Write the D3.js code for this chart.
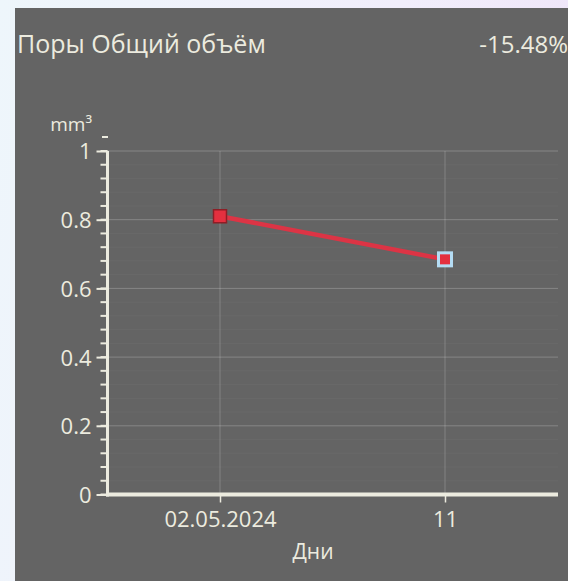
<!DOCTYPE html>
<html><head><meta charset="utf-8">
<script src="https://cdn.jsdelivr.net/npm/d3@7"></script>
<style>
html,body{margin:0;padding:0;width:568px;height:581px;overflow:hidden;}
body{background:linear-gradient(100deg,#eef6fb 0%,#f1eefb 60%,#efe3f8 100%);}
svg{display:block;}
</style></head><body>
<svg id="c" width="568" height="581"></svg>
<script>
const title = "Поры Общий объём";
const changeLabel = "-15.48%";
const unitLabel = "mm³";
const xAxisTitle = "Дни";
const categories = ["02.05.2024", "11"];
const values = [0.81, 0.6846];
const yTicks = [0, 0.2, 0.4, 0.6, 0.8, 1];
const yMinorTicks = d3.range(0, 1.0001, 0.04);

const FONT = "'Open Sans', 'Noto Sans', sans-serif";
const svg = d3.select("#c");
const fg = "#ecebdf";
svg.append("rect").attr("x",15).attr("y",8).attr("width",553).attr("height",573).attr("fill","#646464");

const y = d3.scaleLinear().domain([0,1]).range([494.5,151]);
const x = d3.scalePoint().domain(categories).range([220,445]);
const xLeft = 107.5, xRight = 558;

// grid
const g = svg.append("g");
g.selectAll(".mg").data(yMinorTicks).join("line")
  .attr("x1",xLeft).attr("x2",xRight).attr("y1",d=>y(d)).attr("y2",d=>y(d))
  .attr("stroke","rgba(255,255,255,0.035)").attr("stroke-width",1);
g.selectAll(".gy").data(yTicks.filter(d=>d>0)).join("line")
  .attr("x1",xLeft).attr("x2",xRight).attr("y1",d=>y(d)).attr("y2",d=>y(d))
  .attr("stroke","rgba(255,255,255,0.2)").attr("stroke-width",1);
g.selectAll(".gx").data(categories).join("line")
  .attr("x1",d=>x(d)).attr("x2",d=>x(d)).attr("y1",y(1)).attr("y2",y(0))
  .attr("stroke","rgba(255,255,255,0.2)").attr("stroke-width",1);

// y axis minor ticks
svg.append("g").selectAll("line").data(yMinorTicks).join("line")
  .attr("x1",xLeft-7).attr("x2",xLeft).attr("y1",d=>y(d)).attr("y2",d=>y(d))
  .attr("stroke",fg).attr("stroke-width",2);
// y axis via d3
const yAxis = d3.axisLeft(y).tickValues(yTicks).tickSize(11).tickPadding(5)
  .tickFormat(d=>d===0||d===1?String(d):d3.format(".1f")(d));
const ya = svg.append("g").attr("transform",`translate(${xLeft},0)`).call(yAxis);
ya.select(".domain").remove();
ya.selectAll(".tick line").attr("stroke",fg).attr("stroke-width",2);
ya.selectAll(".tick text").attr("fill",fg).attr("font-family",FONT).attr("font-size",22).attr("dy","0.36em");
svg.append("line").attr("x1",xLeft).attr("x2",xLeft).attr("y1",y(1)).attr("y2",y(0)+2)
  .attr("stroke",fg).attr("stroke-width",3);
// unit label
svg.append("text").attr("x",92).attr("y",131).attr("text-anchor","end").attr("fill",fg)
  .attr("font-family",FONT).attr("font-size",19).text(unitLabel);
svg.append("line").attr("x1",102).attr("x2",108).attr("y1",137).attr("y2",137).attr("stroke",fg).attr("stroke-width",2);

// x axis
const xAxis = d3.axisBottom(x).tickSize(8).tickPadding(9);
const xa = svg.append("g").attr("transform",`translate(0,${y(0)})`).call(xAxis);
xa.select(".domain").remove();
xa.selectAll(".tick line").attr("stroke",fg).attr("stroke-width",1.5);
xa.selectAll(".tick text").attr("fill",fg).attr("font-family",FONT).attr("font-size",22);
svg.append("line").attr("x1",xLeft-1.5).attr("x2",xRight).attr("y1",y(0)).attr("y2",y(0))
  .attr("stroke",fg).attr("stroke-width",4);
svg.append("text").attr("x",313).attr("y",559).attr("text-anchor","middle").attr("fill",fg)
  .attr("font-family",FONT).attr("font-size",21).text(xAxisTitle);

// line
const data = categories.map((c,i)=>({c,v:values[i]}));
svg.append("path").datum(data)
  .attr("d",d3.line().x(d=>x(d.c)).y(d=>y(d.v)))
  .attr("fill","none").attr("stroke","#dc3445").attr("stroke-width",4.5);
// markers
svg.selectAll(".m").data(data).join("rect")
  .attr("x",d=>x(d.c)-6.5).attr("y",d=>y(d.v)-6.5).attr("width",13).attr("height",13)
  .attr("fill","#e4303f")
  .attr("stroke",(d,i)=>i===data.length-1?"#b4dcf4":"#8e1e26")
  .attr("stroke-width",(d,i)=>i===data.length-1?3:1.5);

// title
svg.append("text").attr("x",17).attr("y",53).attr("fill",fg)
  .attr("font-family",FONT).attr("font-size",25).text(title);
svg.append("text").attr("x",568).attr("y",53).attr("text-anchor","end").attr("fill",fg)
  .attr("font-family",FONT).attr("font-size",24).text(changeLabel);
</script></body></html>
